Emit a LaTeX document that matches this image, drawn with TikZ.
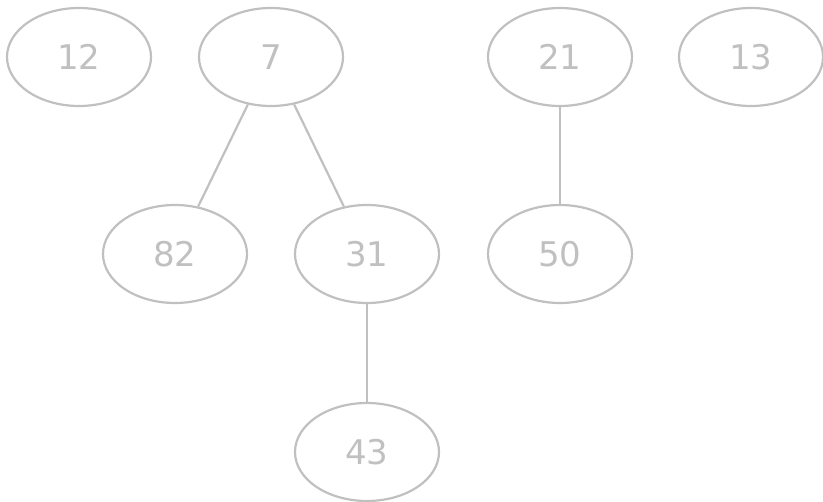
\documentclass[tikz,border=0pt]{standalone}
\usepackage{fontspec}
\setmainfont{DejaVu Sans}
\usetikzlibrary{shapes.geometric}
\definecolor{lightgr}{HTML}{C0C0C0}
\tikzset{
  vert/.style={ellipse,draw=lightgr,line width=2.2pt,text=lightgr,
    minimum width=144pt,minimum height=98pt,inner sep=0pt,
    font=\fontsize{34}{34}\selectfont},
  edge/.style={draw=lightgr,line width=2.2pt}
}
\begin{document}
\begin{tikzpicture}[x=1pt,y=-1pt]
\useasboundingbox (0,0) rectangle (823,502);

\node[vert] (n12) at (79,57) {12};
\node[vert] (n7) at (271,57) {7};
\node[vert] (n21) at (560,57) {21};
\node[vert] (n13) at (751,57) {13};
\node[vert] (n82) at (175,254) {82};
\node[vert] (n31) at (367,254) {31};
\node[vert] (n50) at (560,254) {50};
\node[vert] (n43) at (367,452) {43};

\draw[edge] (n7) -- (n82);
\draw[edge] (n7) -- (n31);
\draw[edge] (n31) -- (n43);
\draw[edge] (n21) -- (n50);

\end{tikzpicture}
\end{document}
